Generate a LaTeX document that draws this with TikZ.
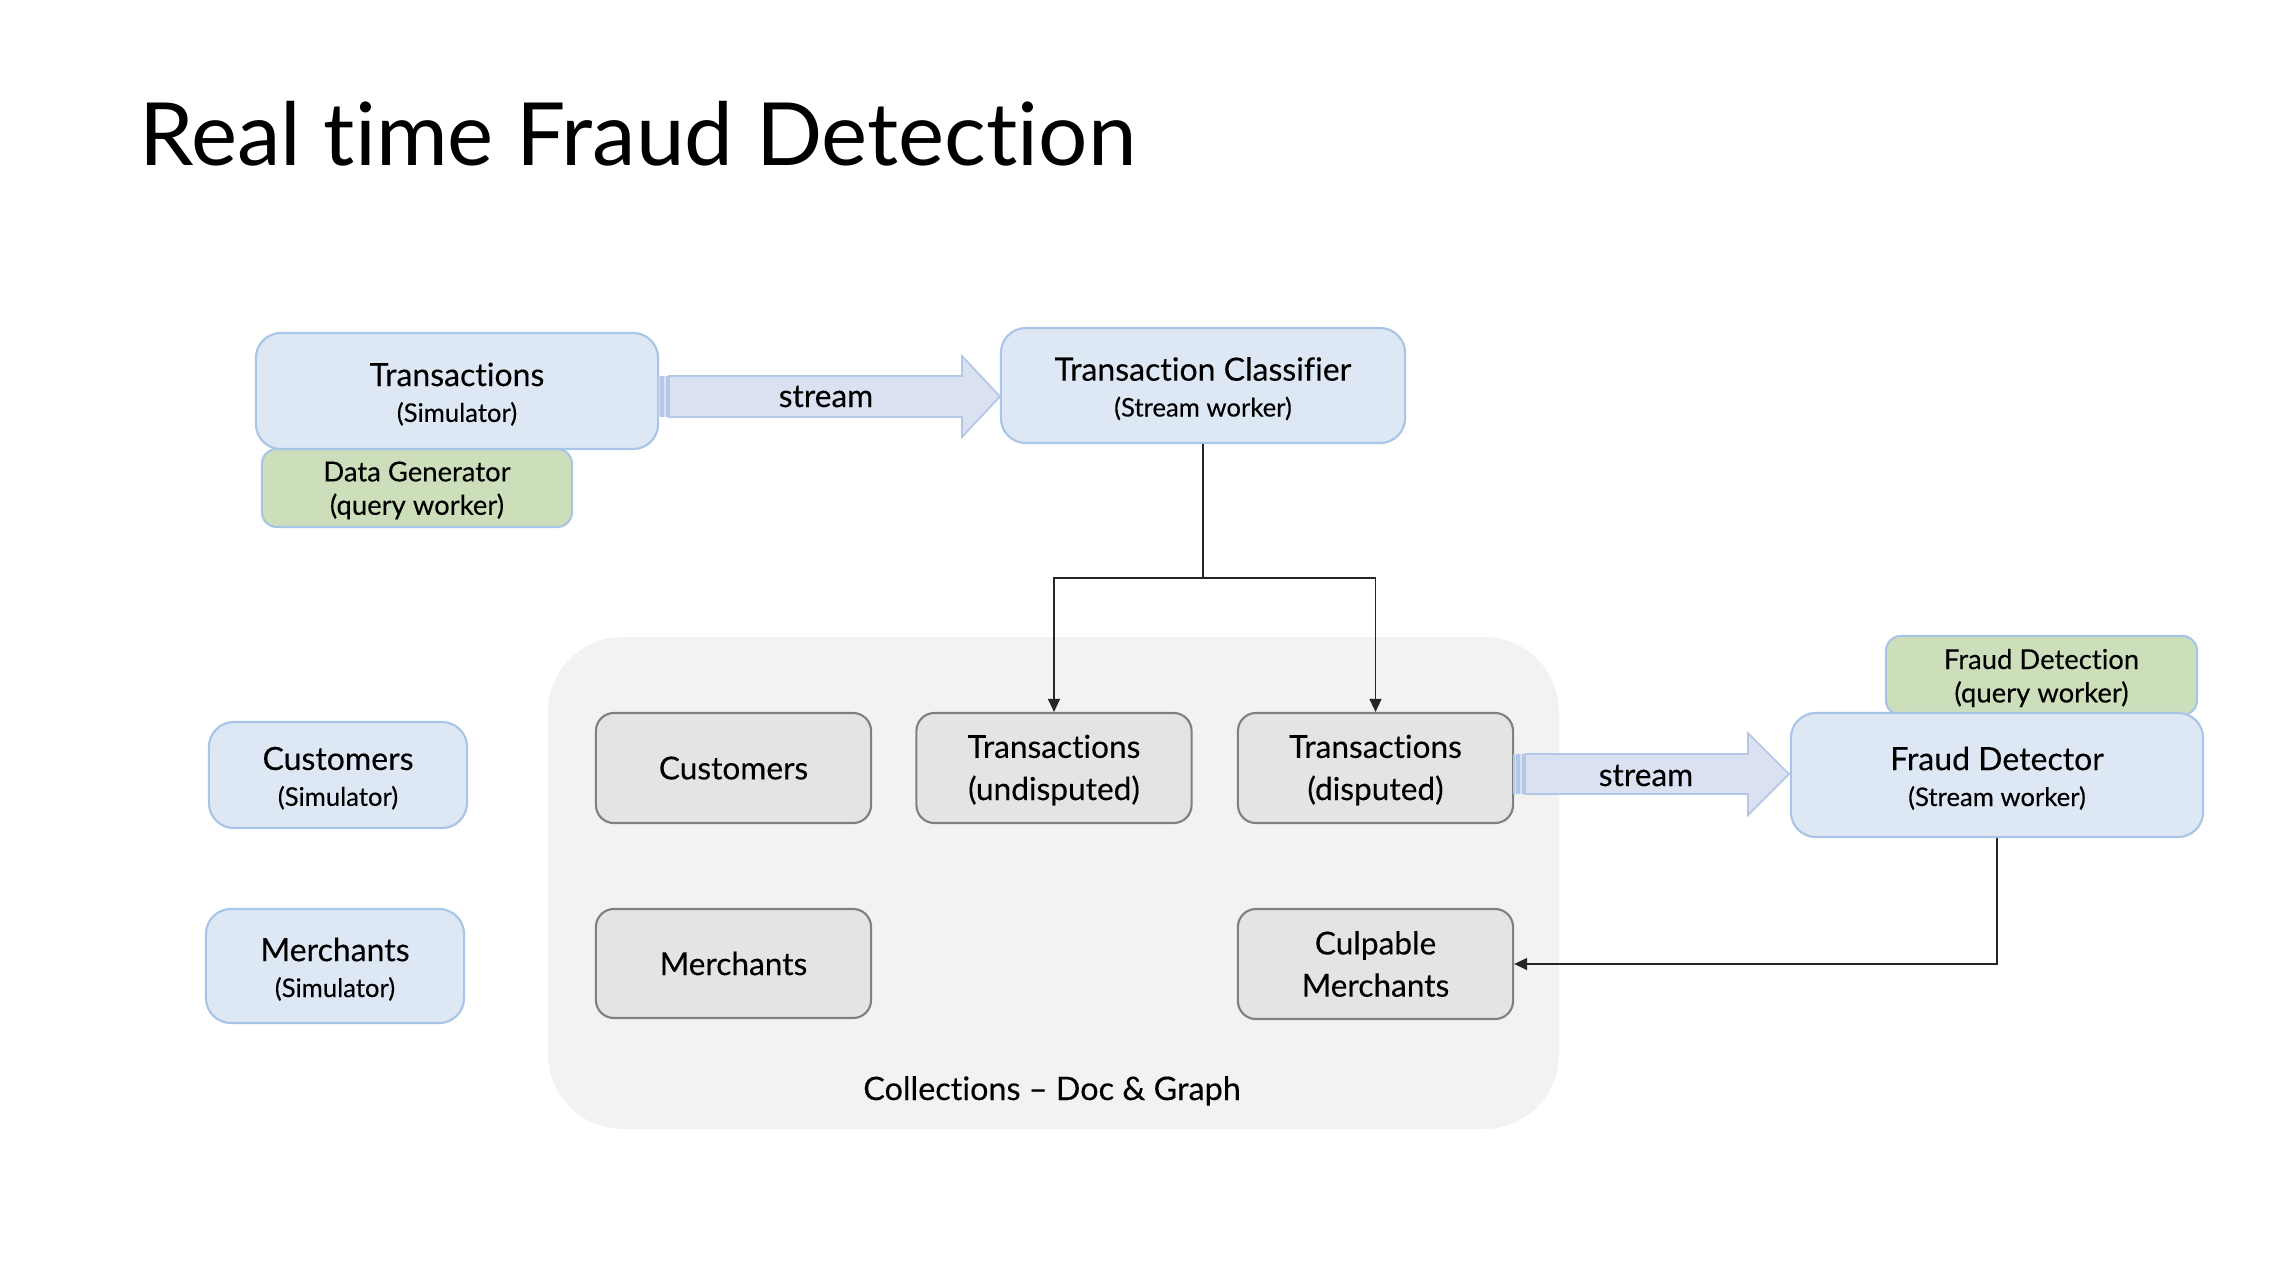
\documentclass[tikz,border=0pt]{standalone}
\usepackage{fontspec}
\setmainfont{Lato}[FakeBold=0.25, Ligatures={NoCommon}]
\newfontfamily\titlefont{Lato}[Ligatures={NoCommon}]
\usetikzlibrary{arrows.meta,calc}
\definecolor{bluefill}{RGB}{222,232,245}
\definecolor{blueline}{RGB}{168,196,230}
\definecolor{greenfill}{RGB}{204,223,186}
\definecolor{grayfill}{RGB}{228,228,228}
\definecolor{grayline}{RGB}{128,128,128}
\definecolor{collfill}{RGB}{242,242,242}
\definecolor{arrowfill}{RGB}{218,226,242}
\definecolor{arrowline}{RGB}{180,199,231}
\tikzset{
  bluebox/.style={draw=blueline, fill=bluefill, line width=0.6pt, rounded corners=0.25cm, inner sep=0pt},
  greenbox/.style={draw=blueline, fill=greenfill, line width=0.6pt, rounded corners=0.15cm, inner sep=0pt},
  graybox/.style={draw=grayline, fill=grayfill, line width=0.6pt, rounded corners=0.18cm, inner sep=0pt, minimum width=2.75cm, minimum height=1.1cm},
  bluetxt/.style={align=center, inner sep=0pt, yshift=-0.9pt, font=\fontsize{9.1}{10.2}\selectfont},
  greentxt/.style={align=center, inner sep=0pt, yshift=-0.7pt, font=\fontsize{7.8}{9.5}\selectfont},
  graytxt/.style={align=center, inner sep=0pt, font=\fontsize{9}{12}\selectfont},
  blockarrow/.style={draw=arrowline, fill=arrowfill, line width=0.5pt},
  conn/.style={draw=black!85, line width=0.4pt, -{Triangle[length=3.7pt,width=3.4pt]}},
  lbl/.style={inner sep=0pt, anchor=base}
}
\newcommand{\subtxt}[1]{{\fontsize{7.3}{8}\selectfont #1}}
\begin{document}
\begin{tikzpicture}[x=0.01cm,y=-0.01cm]
\useasboundingbox (0,0) rectangle (2272,1284);
% title
\node[lbl, anchor=base west, font=\titlefont\fontsize{24.8}{30}\selectfont] (title) at (139,165) {Real time Fraud Detection};
% collections container
\fill[collfill, rounded corners=0.75cm] (548,637) rectangle (1559,1129);
\node[lbl, font=\fontsize{9.2}{10}\selectfont] (colllbl) at (1052,1100) {Collections -- Doc \& Graph};
% top row
\node[greenbox, minimum width=3.10cm, minimum height=0.78cm] (datagen) at (417,488) {};
\node[greentxt] (datagen-t) at (datagen.center) {Data Generator\\(query worker)};
\node[bluebox, minimum width=4.02cm, minimum height=1.16cm] (trans) at (457,391) {};
\node[bluetxt] (trans-t) at (trans.center) {Transactions\\\subtxt{(Simulator)}};
\node[bluebox, minimum width=4.04cm, minimum height=1.15cm] (tc) at (1203,385.5) {};
\node[bluetxt] (tc-t) at (tc.center) {Transaction Classifier\\\subtxt{(Stream worker)}};
% stream arrow 1
\fill[arrowfill] (658,376) rectangle (661,417);
\fill[arrowfill] (663,376) rectangle (667,417);
\draw[arrowline, line width=0.3pt] (658,376) -- (658,417) (661,376) -- (661,417) (663,376) -- (663,417) (667,376) -- (667,417);
\draw[blockarrow] (669,376) -- (962,376) -- (962,356) -- (1000,396.5) -- (962,437) -- (962,417) -- (669,417) -- cycle;
\node[lbl, font=\fontsize{9}{10}\selectfont] (s1) at (826,407) {stream};
% simulators
\node[bluebox, minimum width=2.58cm, minimum height=1.06cm] (csim) at (338,775) {};
\node[bluetxt] (csim-t) at (csim.center) {Customers\\\subtxt{(Simulator)}};
\node[bluebox, minimum width=2.58cm, minimum height=1.14cm] (msim) at (335,966) {};
\node[bluetxt] (msim-t) at (msim.center) {Merchants\\\subtxt{(Simulator)}};
% collections
\node[graybox] (cust) at (733.5,768) {};
\node[graytxt] (cust-t) at (cust.center) {Customers};
\node[graybox] (undis) at (1054,768) {};
\node[graytxt, yshift=-0.6pt] (undis-t) at (undis.center) {Transactions\\(undisputed)};
\node[graybox] (dis) at (1375.5,768) {};
\node[graytxt, yshift=-0.6pt] (dis-t) at (dis.center) {Transactions\\(disputed)};
\node[graybox, minimum height=1.09cm] (merch) at (733.5,963.5) {};
\node[graytxt] (merch-t) at (merch.center) {Merchants};
\node[graybox] (culp) at (1375.5,964) {};
\node[graytxt] (culp-t) at (culp.center) {Culpable\\Merchants};
% fraud detector
\node[greenbox, minimum width=3.11cm, minimum height=0.79cm] (fdq) at (2041.5,675.5) {};
\node[greentxt] (fdq-t) at (fdq.center) {Fraud Detection\\(query worker)};
\node[bluebox, minimum width=4.12cm, minimum height=1.24cm] (fd) at (1997,775) {};
\node[bluetxt] (fd-t) at (fd.center) {Fraud Detector\\\subtxt{(Stream worker)}};
% stream arrow 2
\fill[arrowfill] (1514,754) rectangle (1517,794);
\fill[arrowfill] (1519,754) rectangle (1523,794);
\draw[arrowline, line width=0.3pt] (1514,754) -- (1514,794) (1517,754) -- (1517,794) (1519,754) -- (1519,794) (1523,754) -- (1523,794);
\draw[blockarrow] (1525,754) -- (1748,754) -- (1748,733) -- (1789,774) -- (1748,815) -- (1748,794) -- (1525,794) -- cycle;
\node[lbl, font=\fontsize{9}{10}\selectfont] (s2) at (1646,786) {stream};
% connectors
\coordinate (split) at (1204,578);
\draw[conn] (tc.south) -- (tc.south |- split) -| (undis.north);
\draw[conn] (tc.south) -- (tc.south |- split) -| (dis.north);
\draw[conn] (fd.south) |- (culp.east);
\end{tikzpicture}
\end{document}
